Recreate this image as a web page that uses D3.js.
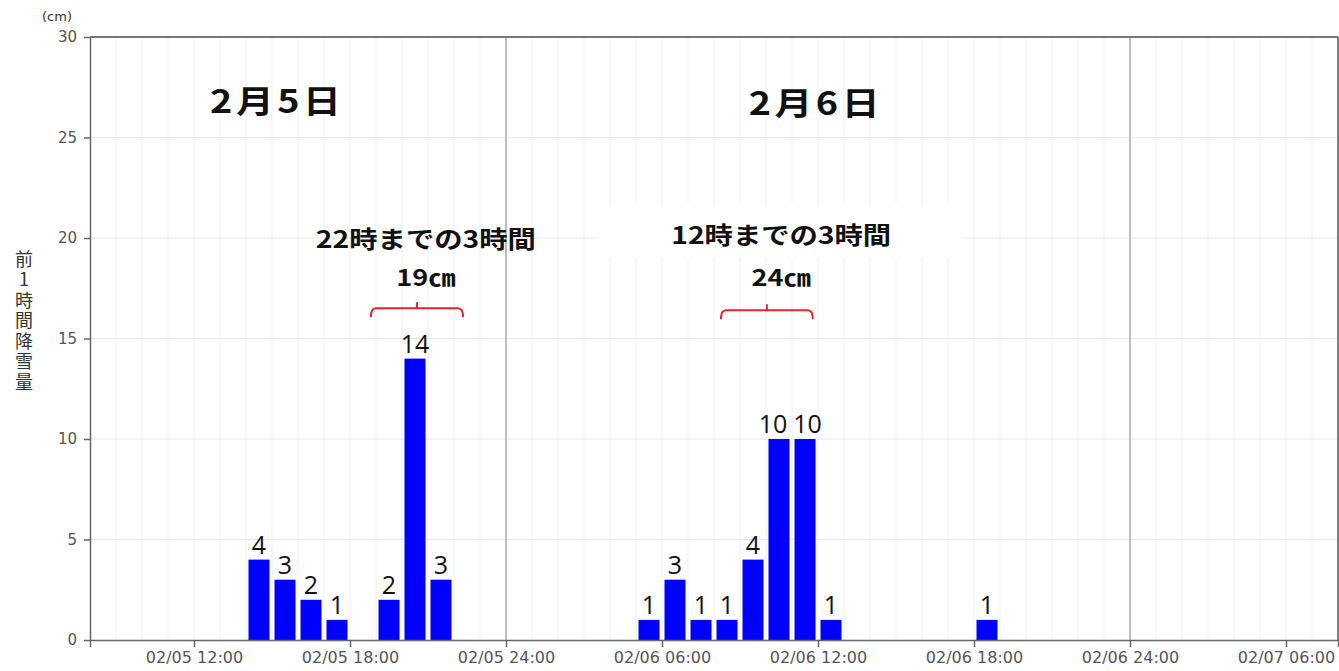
<!DOCTYPE html>
<html>
<head>
<meta charset="utf-8">
<script src="https://cdn.jsdelivr.net/npm/d3@7"></script>
<style>
  body { margin: 0; background: #fff; }
  svg { display: block; }
</style>
</head>
<body>
<div id="chart"></div>
<script>
const svgWidth = 1339;
const svgHeight = 671;

const margin = {
    top: 37,
    right: 1,
    bottom: 31,
    left: 90
};

const width = svgWidth - margin.left - margin.right;
const height = svgHeight - margin.top - margin.bottom;

// time at the end of each hour, and snowfall (cm) during that hour
const obsTimes = ["02/05 15:00", "02/05 16:00", "02/05 17:00", "02/05 18:00",
    "02/05 20:00", "02/05 21:00", "02/05 22:00",
    "02/06 06:00", "02/06 07:00", "02/06 08:00", "02/06 09:00", "02/06 10:00",
    "02/06 11:00", "02/06 12:00", "02/06 13:00", "02/06 19:00"];
const snowfall = [4, 3, 2, 1, 2, 14, 3, 1, 3, 1, 1, 4, 10, 10, 1, 1];

const tickTimes = ["02/05 12:00", "02/05 18:00", "02/06 00:00", "02/06 06:00",
    "02/06 12:00", "02/06 18:00", "02/07 00:00", "02/07 06:00"];
const tickLabels = ["02/05 12:00", "02/05 18:00", "02/05 24:00", "02/06 06:00",
    "02/06 12:00", "02/06 18:00", "02/06 24:00", "02/07 06:00"];
const yTicks = [0, 5, 10, 15, 20, 25, 30];
const dayBreaks = ["02/06 00:00", "02/07 00:00"];
const dayTitles = ["2月5日", "2月6日"];
const periodTitles = ["22時までの3時間", "12時までの3時間"];
const periodTotals = ["19㎝", "24㎝"];

const parse = d3.timeParse("%m/%d %H:%M");
const data = obsTimes.map((t, i) => ({ time: parse(t), value: snowfall[i] }));

const xScale = d3.scaleTime()
    .domain([parse("02/05 08:00"), parse("02/07 08:00")])
    .range([0, width]);
const yScale = d3.scaleLinear()
    .domain([0, 30])
    .range([height, 0]);

const svg = d3.select("#chart").append("svg")
    .attr("width", svgWidth)
    .attr("height", svgHeight);

const chartGroup = svg.append("g")
    .attr("transform", `translate(${margin.left}, ${margin.top})`);

// hourly grid
chartGroup.append("g")
    .selectAll("line")
    .data(d3.timeHour.range(xScale.domain()[0], xScale.domain()[1]).slice(1))
    .enter()
    .append("line")
    .attr("x1", d => xScale(d)).attr("x2", d => xScale(d))
    .attr("y1", 0).attr("y2", height)
    .attr("stroke", "#efefef")
    .attr("stroke-width", 1);

chartGroup.append("g")
    .selectAll("line")
    .data(yTicks.slice(1, -1))
    .enter()
    .append("line")
    .attr("x1", 0).attr("x2", width)
    .attr("y1", d => yScale(d)).attr("y2", d => yScale(d))
    .attr("stroke", "#e8e8e8")
    .attr("stroke-width", 1);

chartGroup.append("g")
    .selectAll("line")
    .data(dayBreaks.map(parse))
    .enter()
    .append("line")
    .attr("x1", d => xScale(d)).attr("x2", d => xScale(d))
    .attr("y1", 0).attr("y2", height)
    .attr("stroke", "#bdbdbd")
    .attr("stroke-width", 2);

// white backing behind the second period title
chartGroup.append("rect")
    .attr("x", xScale(parse("02/06 03:30")))
    .attr("y", yScale(21.7))
    .attr("width", xScale(parse("02/06 17:35")) - xScale(parse("02/06 03:30")))
    .attr("height", yScale(19.0) - yScale(21.7))
    .attr("fill", "#fff");

// bars: each value covers the hour before its time
const pad = 2.5;
chartGroup.selectAll("rect.bar")
    .data(data)
    .enter()
    .append("rect")
    .classed("bar", true)
    .attr("x", d => xScale(d3.timeHour.offset(d.time, -1)) + pad)
    .attr("width", d => xScale(d.time) - xScale(d3.timeHour.offset(d.time, -1)) - 2 * pad)
    .attr("y", d => yScale(d.value))
    .attr("height", d => height - yScale(d.value))
    .attr("fill", "#0000ff");

const labels = chartGroup.selectAll("text.val")
    .data(data)
    .enter()
    .append("text")
    .classed("val", true)
    .attr("x", d => (xScale(d.time) + xScale(d3.timeHour.offset(d.time, -1))) / 2)
    .attr("y", d => yScale(d.value) - 6)
    .attr("text-anchor", "middle")
    .attr("font-family", "'Open Sans', sans-serif")
    .attr("font-size", 25)
    .attr("fill", "#111")
    .text(d => d.value);

// push apart labels of neighbouring bars that would touch
const nodes = labels.nodes();
for (let i = 0; i < nodes.length - 1; i++) {
    const a = nodes[i].getBBox(), b = nodes[i + 1].getBBox();
    const overlap = a.x + a.width + 6 - b.x;
    if (overlap > 0 && Math.abs(a.y - b.y) < a.height) {
        const ax = +nodes[i].getAttribute("x");
        const bx = +nodes[i + 1].getAttribute("x");
        nodes[i].setAttribute("x", ax - overlap * 0.7);
        nodes[i + 1].setAttribute("x", bx + overlap * 0.3);
    }
}

// axes
const axisX = chartGroup.append("g")
    .attr("transform", `translate(0, ${height})`)
    .call(d3.axisBottom(xScale)
        .tickValues(tickTimes.map(parse))
        .tickFormat((d, i) => tickLabels[i])
        .tickSize(7)
        .tickSizeOuter(7)
        .tickPadding(5));

const axisY = chartGroup.append("g")
    .call(d3.axisLeft(yScale)
        .tickValues(yTicks)
        .tickSize(6)
        .tickSizeOuter(0)
        .tickPadding(7));

[axisX, axisY].forEach(g => {
    g.select(".domain").attr("stroke", "#666").attr("stroke-width", 1.5);
    g.selectAll(".tick line").attr("stroke", "#666").attr("stroke-width", 1.5);
    g.selectAll(".tick text")
        .attr("fill", "#555")
        .attr("font-family", "'DejaVu Sans', Verdana, sans-serif");
});
axisX.selectAll(".tick text").attr("font-size", 16);
axisY.selectAll(".tick text").attr("font-size", 15);

// frame top and right
chartGroup.append("line")
    .attr("x1", 0).attr("x2", width)
    .attr("y1", 0).attr("y2", 0)
    .attr("stroke", "#777").attr("stroke-width", 2);
chartGroup.append("line")
    .attr("x1", width).attr("x2", width)
    .attr("y1", 0).attr("y2", height)
    .attr("stroke", "#555").attr("stroke-width", 1.5);

// y title and unit
svg.append("text")
    .attr("x", 57).attr("y", 21)
    .attr("text-anchor", "middle")
    .attr("font-family", "'DejaVu Sans', sans-serif")
    .attr("font-size", 13)
    .attr("fill", "#333")
    .text("(cm)");

svg.append("text")
    .attr("x", 24).attr("y", 250)
    .attr("style", "writing-mode: vertical-rl; text-orientation: upright;")
    .attr("font-family", "'Noto Sans CJK JP', sans-serif")
    .attr("font-size", 18)
    .attr("letter-spacing", 2.5)
    .attr("fill", "#333")
    .text("前1時間降雪量");

// annotations
function stretched(txt, t, v, size, spacing) {
    chartGroup.append("text")
        .attr("transform", `translate(${xScale(parse(t))}, ${yScale(v)}) scale(1.18, 1)`)
        .attr("text-anchor", "middle")
        .attr("font-family", "'Noto Sans CJK JP', sans-serif")
        .attr("font-weight", 700)
        .attr("font-size", size)
        .attr("letter-spacing", spacing)
        .attr("fill", "#111")
        .text(txt);
}

stretched(dayTitles[0], "02/05 15:12", 26.2, 32, 3);
stretched(dayTitles[1], "02/06 11:55", 26.1, 32, 3);
stretched(periodTitles[0], "02/05 20:55", 19.5, 24, 0);
stretched(periodTitles[1], "02/06 10:35", 19.7, 24, 0);
stretched(periodTotals[0], "02/05 20:55", 17.6, 23, 0);
stretched(periodTotals[1], "02/06 10:35", 17.6, 23, 0);

function bracket(t0, t1, v) {
    const x0 = xScale(parse(t0)), x1 = xScale(parse(t1)), y = yScale(v);
    const mid = (x0 + x1) / 2;
    chartGroup.append("path")
        .attr("d", `M${x0},${y + 9} Q${x0},${y} ${x0 + 5},${y} H${x1 - 5} Q${x1},${y} ${x1},${y + 9} M${mid},${y} V${y - 6}`)
        .attr("fill", "none")
        .attr("stroke", "#e3262b")
        .attr("stroke-width", 2);
}

bracket("02/05 18:48", "02/05 22:21", 16.5);
bracket("02/06 08:16", "02/06 11:48", 16.4);
</script>
</body>
</html>
